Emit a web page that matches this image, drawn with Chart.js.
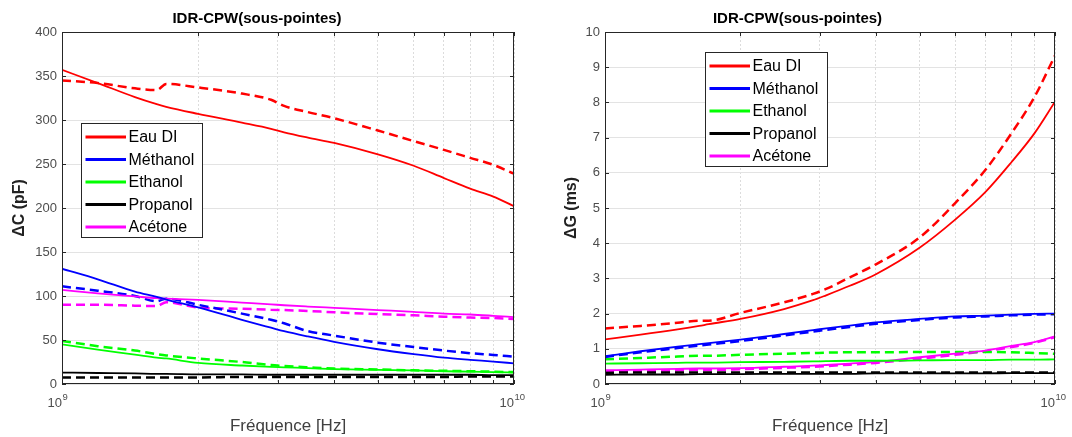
<!DOCTYPE html>
<html>
<head>
<meta charset="utf-8">
<script src="https://cdn.jsdelivr.net/npm/chart.js@4.4.1/dist/chart.umd.min.js"></script>
<style>
  html, body { margin: 0; padding: 0; background: #fff; }
  #wrap { position: relative; width: 1072px; height: 437px; }
  canvas { position: absolute; top: 0; }
  #capC { left: 0; width: 540px; height: 437px; }
  #capG { left: 540px; width: 532px; height: 437px; }
</style>
</head>
<body>
<div id="wrap">
  <canvas id="capC" width="540" height="437"></canvas>
  <canvas id="capG" width="532" height="437"></canvas>
</div>
<script>
// sample frequencies (GHz)
const freqGHz = [1, 1.2, 1.45, 1.62, 1.7, 2, 2.5, 2.9, 3.1, 3.5, 4, 5, 6, 7, 8, 9, 10];
const liquids = ["Eau DI", "Méthanol", "Ethanol", "Propanol", "Acétone"];
const colors = ["#ff0000", "#0000ff", "#00ff00", "#000000", "#ff00ff"];
const xTicks = [1e9, 2e9, 3e9, 4e9, 5e9, 6e9, 7e9, 8e9, 9e9, 1e10];
const xDecades = [1e9, 1e10];
const capTicks = [0, 50, 100, 150, 200, 250, 300, 350, 400];
const condTicks = [0, 1, 2, 3, 4, 5, 6, 7, 8, 9, 10];

// ΔC (pF) : trait plein / pointillé
const dC_eau   = [357, 342, 326, 318, 315, 307, 297, 290, 286, 280, 274, 261, 248, 234, 222, 213, 202];
const dC_eau2  = [345, 342, 336, 334, 341, 337, 330, 323, 316, 309, 302, 288, 276, 266, 257, 249, 239];
const dC_meth  = [131, 119, 105, 99, 96, 87, 73, 64, 60, 54, 48, 39.5, 34, 30, 27.5, 25.5, 23.5];
const dC_meth2 = [111, 106, 100, 94, 97, 90, 80, 73, 69, 60, 55, 47, 42, 38, 35, 33, 31];
const dC_eth   = [45, 39, 33.5, 30, 29, 24, 21, 19.5, 19, 18, 17, 16, 15.5, 14.5, 14, 13.5, 13];
const dC_eth2  = [49, 43, 38, 34, 32.5, 29, 25, 21.5, 20.5, 19, 17.5, 16.5, 15.5, 15, 14.5, 14, 13.5];
const dC_prop  = [13, 12.5, 12, 11.5, 11.5, 11, 11, 10.5, 10.5, 10.5, 10.5, 10.5, 10.5, 10.5, 10.5, 10, 10];
const dC_prop2 = [7.5, 7.5, 7.5, 7.5, 7.5, 7.5, 8, 8, 8, 8, 8, 8, 8, 8, 8.5, 8.5, 8.5];
const dC_acet  = [107, 103, 99.5, 97.5, 97, 95.5, 92.5, 90.5, 89.5, 88, 86.5, 84, 82, 80, 79, 77.5, 76];
const dC_acet2 = [90, 90, 89, 88.5, 93, 87, 85.5, 84.5, 84, 83, 81.5, 79.5, 78, 76.5, 75.5, 75, 74];

// ΔG (ms)
const dG_eau   = [1.27, 1.40, 1.55, 1.65, 1.70, 1.85, 2.13, 2.38, 2.52, 2.79, 3.12, 3.87, 4.67, 5.45, 6.30, 7.12, 8.02];
const dG_eau2  = [1.58, 1.65, 1.74, 1.80, 1.80, 2.02, 2.32, 2.56, 2.70, 3.03, 3.40, 4.16, 5.14, 6.08, 7.12, 8.15, 9.33];
const dG_meth  = [0.79, 0.93, 1.06, 1.13, 1.16, 1.26, 1.42, 1.53, 1.58, 1.66, 1.75, 1.85, 1.92, 1.94, 1.97, 1.99, 2.00];
const dG_meth2 = [0.77, 0.90, 1.02, 1.09, 1.12, 1.22, 1.38, 1.49, 1.54, 1.62, 1.71, 1.82, 1.89, 1.92, 1.95, 1.97, 1.98];
const dG_eth   = [0.58, 0.59, 0.60, 0.61, 0.61, 0.62, 0.63, 0.64, 0.65, 0.66, 0.66, 0.67, 0.68, 0.68, 0.69, 0.69, 0.70];
const dG_eth2  = [0.70, 0.74, 0.78, 0.80, 0.80, 0.83, 0.86, 0.88, 0.89, 0.90, 0.90, 0.91, 0.91, 0.91, 0.90, 0.88, 0.86];
const dG_prop  = [0.26, 0.27, 0.27, 0.28, 0.28, 0.28, 0.29, 0.29, 0.29, 0.29, 0.30, 0.30, 0.30, 0.30, 0.31, 0.31, 0.31];
const dG_prop2 = [0.32, 0.33, 0.33, 0.33, 0.33, 0.33, 0.33, 0.33, 0.33, 0.33, 0.33, 0.33, 0.33, 0.33, 0.33, 0.33, 0.33];
const dG_acet  = [0.39, 0.41, 0.43, 0.44, 0.44, 0.45, 0.49, 0.52, 0.54, 0.58, 0.63, 0.76, 0.86, 0.95, 1.08, 1.19, 1.35];
const dG_acet2 = [0.35, 0.37, 0.39, 0.40, 0.40, 0.42, 0.46, 0.49, 0.51, 0.55, 0.60, 0.72, 0.83, 0.93, 1.05, 1.17, 1.33];

const FONT = "'Liberation Sans', Arial, Helvetica, sans-serif";
const freqHz = freqGHz.map(f => f * 1e9);

function series(values, i, dashed) {
  return {
    label: liquids[i],
    data: values.map((v, k) => ({ x: freqHz[k], y: v })),
    borderColor: colors[i],
    borderWidth: dashed ? 2.5 : 1.8,
    borderDash: dashed ? [9, 5] : [],
    pointRadius: 0,
    cubicInterpolationMode: "monotone",
    fill: false,
    dashed: dashed
  };
}

// box, inward ticks, decade labels and legend
const frame = {
  id: "frame",
  afterDraw(chart, args, opts) {
    const { ctx, chartArea: a, scales: { x, y } } = chart;
    ctx.save();
    ctx.strokeStyle = "#262626";
    ctx.lineWidth = 1;
    ctx.beginPath();
    xTicks.forEach(v => {
      const px = Math.round(x.getPixelForValue(v)) + 0.5;
      ctx.moveTo(px, a.bottom); ctx.lineTo(px, a.bottom - 4);
      ctx.moveTo(px, a.top); ctx.lineTo(px, a.top + 4);
    });
    y.ticks.forEach(t => {
      const py = Math.round(y.getPixelForValue(t.value)) + 0.5;
      ctx.moveTo(a.left, py); ctx.lineTo(a.left + 4, py);
      ctx.moveTo(a.right, py); ctx.lineTo(a.right - 4, py);
    });
    ctx.stroke();
    ctx.strokeRect(Math.round(a.left) + 0.5, Math.round(a.top) + 0.5,
      Math.round(a.width) - 1, Math.round(a.height) - 1);

    // x decade labels 10^n, base ends on the tick
    ctx.fillStyle = "#4d4d4d";
    ctx.textBaseline = "alphabetic";
    ctx.textAlign = "left";
    xDecades.forEach(v => {
      const base = "10", exp = String(Math.round(Math.log10(v)));
      ctx.font = "13px " + FONT;
      const wb = ctx.measureText(base).width;
      const x0 = x.getPixelForValue(v) - wb;
      ctx.fillText(base, x0, a.bottom + 23);
      ctx.font = "9.5px " + FONT;
      ctx.fillText(exp, x0 + wb + 0.5, a.bottom + 16);
    });

    // legend (solid lines only)
    const L = opts.box;
    ctx.fillStyle = "#ffffff";
    ctx.fillRect(L.x, L.y, L.w, L.h);
    ctx.strokeStyle = "#262626";
    ctx.strokeRect(L.x + 0.5, L.y + 0.5, L.w, L.h);
    ctx.font = "16px " + FONT;
    ctx.textBaseline = "middle";
    let row = 0;
    chart.data.datasets.forEach(ds => {
      if (ds.dashed) return;
      const cy = L.y + 14 + row * 22.5;
      ctx.strokeStyle = ds.borderColor;
      ctx.lineWidth = 3;
      ctx.beginPath();
      ctx.moveTo(L.x + 4.5, cy); ctx.lineTo(L.x + 45, cy);
      ctx.stroke();
      ctx.fillStyle = "#000000";
      ctx.fillText(ds.label, L.x + 47.5, cy + 1);
      row++;
    });
    ctx.restore();
  }
};

function makeChart(id, solids, dashes, yTitle, yTicks, yMax, pad, legendBox) {
  const datasets = [];
  solids.forEach((v, i) => datasets.push(series(v, i, false)));
  dashes.forEach((v, i) => datasets.push(series(v, i, true)));
  return new Chart(document.getElementById(id), {
    type: "line",
    data: { datasets },
    plugins: [frame],
    options: {
      responsive: false,
      animation: false,
      devicePixelRatio: 1,
      layout: { padding: { left: 0, right: pad.right, top: 0, bottom: 0 } },
      plugins: {
        legend: { display: false },
        tooltip: { enabled: false },
        title: {
          display: true,
          text: "IDR-CPW(sous-pointes)",
          color: "#000000",
          font: { family: FONT, size: 15, weight: "bold" },
          padding: { top: 10, bottom: 4 }
        },
        frame: { box: legendBox }
      },
      scales: {
        x: {
          type: "logarithmic",
          min: 1e9,
          max: 1e10,
          afterBuildTicks: s => { s.ticks = xTicks.map(v => ({ value: v })); },
          afterFit: s => { s.height = 53; },
          ticks: { display: false },
          grid: { color: "#dcdcdc", lineWidth: 1, drawTicks: false },
          border: { display: false, dash: [2, 2] },
          title: {
            display: true,
            text: "Fréquence [Hz]",
            color: "#404040",
            font: { family: FONT, size: 17 },
            padding: { top: 0, bottom: 0 }
          }
        },
        y: {
          min: 0,
          max: yMax,
          afterBuildTicks: s => { s.ticks = yTicks.map(v => ({ value: v })); },
          afterFit: s => { s.width = pad.left; },
          ticks: {
            color: "#4d4d4d",
            padding: 5,
            font: { family: FONT, size: 13 }
          },
          grid: { color: "#e3e3e3", lineWidth: 1, drawTicks: false },
          border: { display: false },
          title: {
            display: true,
            text: yTitle,
            color: "#222222",
            font: { family: FONT, size: 16, weight: "bold" },
            padding: { top: pad.yTitle, bottom: 0 }
          }
        }
      }
    }
  });
}

makeChart("capC",
  [dC_eau, dC_meth, dC_eth, dC_prop, dC_acet],
  [dC_eau2, dC_meth2, dC_eth2, dC_prop2, dC_acet2],
  "\u0394C (pF)", capTicks, 400,
  { left: 62, right: 26, yTitle: 10 },
  { x: 81, y: 123, w: 121, h: 114 });

makeChart("capG",
  [dG_eau, dG_meth, dG_eth, dG_prop, dG_acet],
  [dG_eau2, dG_meth2, dG_eth2, dG_prop2, dG_acet2],
  "\u0394G (ms)", condTicks, 10,
  { left: 65, right: 17, yTitle: 22 },
  { x: 165, y: 52, w: 122, h: 114 });
</script>
</body>
</html>
